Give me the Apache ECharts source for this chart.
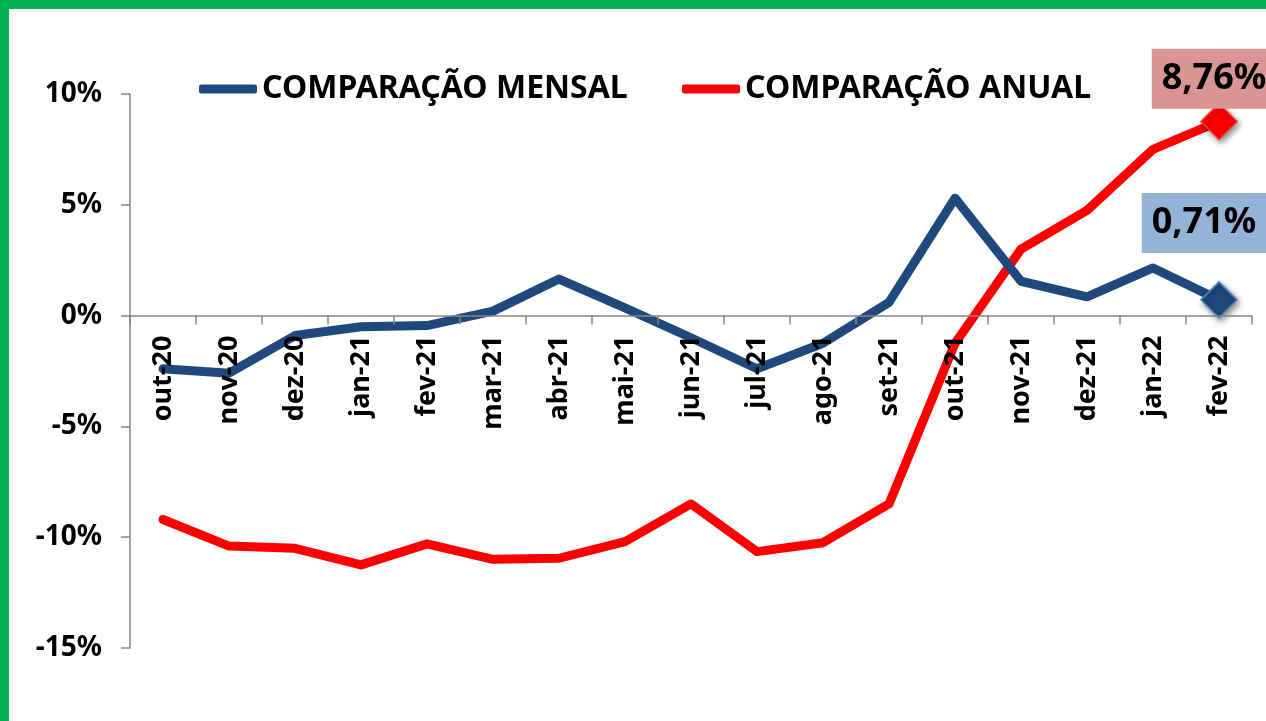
<!DOCTYPE html>
<html>
<head>
<meta charset="utf-8">
<script src="https://cdn.jsdelivr.net/npm/echarts@6/dist/echarts.min.js"></script>
<style>
  html, body { margin: 0; padding: 0; background: #fff; }
  #wrap { position: relative; width: 1266px; height: 721px; overflow: hidden; }
  #chart { position: absolute; left: 0; top: 0; width: 1266px; height: 721px; }
  #frame {
    position: absolute; left: 0; top: 0; width: 1266px; height: 721px;
    box-sizing: border-box; border-top: 9px solid #00B050; border-left: 9px solid #00B050;
    pointer-events: none;
  }
</style>
</head>
<body>
<div id="wrap">
  <div id="chart"></div>
  <div id="frame"></div>
</div>
<script>
  // categorias (meses)
  const meses = ['out-20', 'nov-20', 'dez-20', 'jan-21', 'fev-21', 'mar-21', 'abr-21', 'mai-21',
    'jun-21', 'jul-21', 'ago-21', 'set-21', 'out-21', 'nov-21', 'dez-21', 'jan-22', 'fev-22'];
  // variação mensal (%)
  const mensal = [-2.4, -2.6, -0.9, -0.5, -0.45, 0.2, 1.65, 0.35, -1.0, -2.4, -1.25, 0.6, 5.3, 1.55, 0.85, 2.15, 0.71];
  // variação anual (%)
  const anual = [-9.2, -10.4, -10.5, -11.25, -10.3, -11.0, -10.95, -10.2, -8.5, -10.65, -10.25, -8.5, -1.25, 3.0, 4.75, 7.5, 8.76];
  const yTicks = { min: -15, max: 10, interval: 5 };

  const azul = '#1F497D';
  const vermelho = '#FF0000';
  const fonte = '"Noto Sans", sans-serif';

  const gridTop = 94, gridBottom = 73, altura = 721;
  const gridH = altura - gridTop - gridBottom;
  // eixo x passa pelo 0%, com os rótulos logo abaixo dele
  const xOffset = -gridH * (0 - yTicks.min) / (yTicks.max - yTicks.min);

  const fmt = v => v.toFixed(2).replace('.', ',') + '%';

  // só o último ponto leva marcador e rótulo
  function comUltimo(arr, cor, borda, fundo, dist, off) {
    return arr.map((v, i) => {
      if (i < arr.length - 1) return v;
      return {
        value: v,
        symbol: 'diamond',
        symbolSize: 36,
        itemStyle: {
          color: cor, borderColor: borda, borderWidth: 1.5,
          shadowBlur: 6, shadowColor: 'rgba(0,0,0,0.45)', shadowOffsetX: 2, shadowOffsetY: 3
        },
        label: {
          show: true,
          position: 'top',
          distance: dist,
          offset: off,
          formatter: fmt(v),
          backgroundColor: fundo,
          padding: [10, 10, 10, 10],
          color: '#000',
          fontFamily: fonte,
          fontWeight: 'bold',
          fontSize: 36,
          lineHeight: 40
        }
      };
    });
  }

  const chart = echarts.init(document.getElementById('chart'));
  const option = {
    backgroundColor: '#fff',
    animation: false,
    textStyle: { fontFamily: fonte },
    grid: { left: 130, right: 14, top: gridTop, bottom: gridBottom, containLabel: false, outerBoundsMode: 'none' },
    legend: [
      {
        data: ['COMPARAÇÃO MENSAL'], left: 194, top: 68,
        icon: 'roundRect', itemWidth: 58, itemHeight: 9, itemGap: 0,
        textStyle: { fontSize: 32, fontWeight: 'bold', color: '#000', fontFamily: fonte }
      },
      {
        data: ['COMPARAÇÃO ANUAL'], left: 677, top: 68,
        icon: 'roundRect', itemWidth: 58, itemHeight: 9, itemGap: 0,
        textStyle: { fontSize: 32, fontWeight: 'bold', color: '#000', fontFamily: fonte }
      }
    ],
    xAxis: {
      type: 'category',
      data: meses,
      boundaryGap: true,
      position: 'bottom',
      offset: xOffset,
      z: 5,
      axisLine: { onZero: false, lineStyle: { color: '#868686', width: 1.5 } },
      axisTick: { show: true, length: 9, lineStyle: { color: '#868686', width: 1.5 } },
      axisLabel: {
        interval: 0, rotate: 90, margin: 20,
        color: '#000', fontWeight: 'bold', fontSize: 27, fontFamily: fonte
      },
      splitLine: { show: false }
    },
    yAxis: {
      type: 'value',
      min: yTicks.min, max: yTicks.max, interval: yTicks.interval,
      axisLine: { show: true, lineStyle: { color: '#868686', width: 1.5 } },
      axisTick: { show: true, length: 9, lineStyle: { color: '#868686', width: 1.5 } },
      axisLabel: {
        formatter: '{value}%', margin: 28,
        color: '#000', fontWeight: 'bold', fontSize: 28, fontFamily: fonte
      },
      splitLine: { show: false }
    },
    series: [
      {
        name: 'COMPARAÇÃO MENSAL',
        type: 'line',
        data: comUltimo(mensal, azul, '#4F81BD', '#95B3D7', 28, [-15, 0]),
        symbol: 'none',
        color: azul,
        lineStyle: { color: azul, width: 9, cap: 'round', join: 'round' },
        z: 3
      },
      {
        name: 'COMPARAÇÃO ANUAL',
        type: 'line',
        data: comUltimo(anual, vermelho, '#FF3030', '#D99594', -6, [-5, 0]),
        symbol: 'none',
        color: vermelho,
        lineStyle: { color: vermelho, width: 9, cap: 'round', join: 'round' },
        z: 2
      }
    ]
  };
  chart.setOption(option);
</script>
</body>
</html>
